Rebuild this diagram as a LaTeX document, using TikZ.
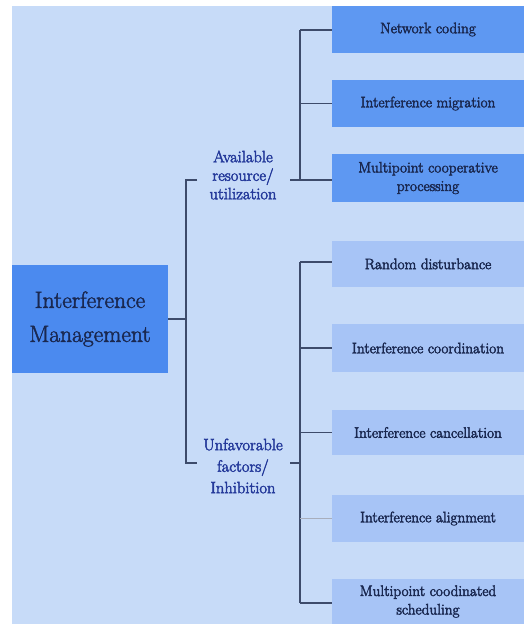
\documentclass[tikz,border=0pt]{standalone}
\definecolor{bgc}{HTML}{C7DBF8}
\definecolor{topc}{HTML}{5E98F2}
\definecolor{mainc}{HTML}{4B8AEF}
\definecolor{lowc}{HTML}{A7C4F6}
\definecolor{txtc}{HTML}{1A2850}
\definecolor{lblc}{HTML}{24399A}
\definecolor{linec}{HTML}{3D4B6B}
\newcommand\heavytxt{\special{pdf:code 2 Tr 0.45 w}}
\tikzset{
  box/.style={rectangle, inner sep=0pt, minimum width=192pt, align=center, text=txtc,
    font=\fontsize{15.2}{18.5}\selectfont\heavytxt},
  topbox/.style={box, fill=topc},
  lowbox/.style={box, fill=lowc},
  lbl/.style={inner sep=0pt, align=center, text=lblc},
  conn/.style={draw=linec, line width=1.2pt}
}
\begin{document}
\begin{tikzpicture}[x=1pt,y=-1pt]
\useasboundingbox (0,0) rectangle (524,627);
\fill[white] (0,0) rectangle (524,627);
\fill[bgc] (12,6) rectangle (524,624);
% main node
\node[rectangle, fill=mainc, minimum width=156pt, minimum height=108pt, inner sep=0pt,
  align=center, text=txtc, font=\fontsize{23.5}{34}\selectfont\heavytxt] (main) at (90,319) {Interference\\Management};
% top boxes
\node[topbox, minimum height=47pt] (nc) at (428,29.5) {Network coding};
\node[topbox, minimum height=47pt] (im) at (428,103.5) {Interference migration};
\node[topbox, minimum height=48pt] (mcp) at (428,178) {Multipoint cooperative\\processing};
% lower boxes
\node[lowbox, minimum height=46pt] (rd) at (428,264) {Random disturbance};
\node[lowbox, minimum height=48pt] (ic) at (428,348) {Interference coordination};
\node[lowbox, minimum height=45pt] (icc) at (428,432.5) {Interference cancellation};
\node[lowbox, minimum height=47pt] (ia) at (428,518.5) {Interference alignment};
\node[lowbox, minimum height=45pt] (mcs) at (428,601.5) {Multipoint coodinated\\scheduling};
% labels
\node[lbl, font=\fontsize{16.5}{18.5}\selectfont\heavytxt] (avail) at (243,175) {Available\\resource/\\utilization};
\node[lbl, font=\fontsize{16.5}{21.5}\selectfont\heavytxt] (unf) at (243,466) {Unfavorable\\factors/\\Inhibition};
% coordinates
\coordinate (j0) at (186,319);
\coordinate (ja) at (186,180);
\coordinate (jb) at (186,463);
\coordinate (ta) at (197,180);
\coordinate (tb) at (197,463);
\coordinate (ua) at (300,30);
\coordinate (ub) at (300,180);
\coordinate (la) at (300,262);
\coordinate (lb) at (300,603);
\coordinate (lm) at (300,463);
\coordinate (ae) at (290,180);
\coordinate (ue) at (290,463);
% connectors
\draw[conn] (main.east |- j0) -- (j0);
\draw[conn] (ta) -- (ja) -- (jb) -- (tb);
\draw[conn] (ae) -- (ub);
\draw[conn] (ua) -- (ub);
\draw[conn] (ua) -- (nc.west |- ua);
\draw[conn] (im.west -| ua) -- (im.west);
\draw[conn] (ub) -- (mcp.west |- ub);
\draw[conn] (ue) -- (lm);
\draw[conn] (la) -- (lb);
\draw[conn] (la) -- (rd.west |- la);
\draw[conn] (ic.west -| la) -- (ic.west);
\draw[conn] (icc.west -| la) -- (icc.west);
\draw[conn, draw=linec!45] (ia.west -| la) -- (ia.west);
\draw[conn] (lb) -- (mcs.west |- lb);
\end{tikzpicture}
\end{document}
